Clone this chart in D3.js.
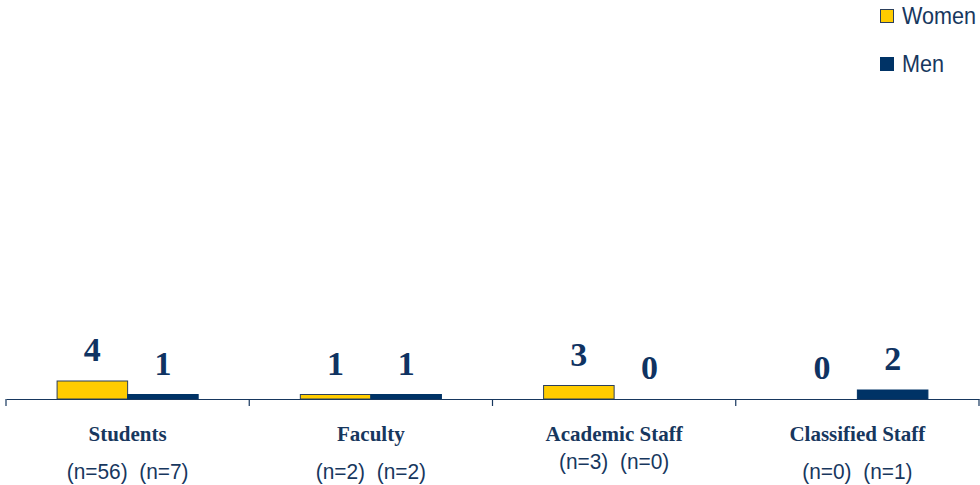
<!DOCTYPE html>
<html>
<head>
<meta charset="utf-8">
<script src="https://cdn.jsdelivr.net/npm/d3@7/dist/d3.min.js"></script>
<style>
  html, body { margin: 0; padding: 0; background: #ffffff; }
  svg { display: block; }
  text.n { white-space: pre; }
</style>
</head>
<body>
<svg id="chart" width="980" height="485"></svg>
<script>
// Groups along the x axis
const categories = ["Students", "Faculty", "Academic Staff", "Classified Staff"];
const series = ["Women", "Men"];
// Values per group
const women = [4, 1, 3, 0];
const men = [1, 1, 0, 2];
// Respondent counts shown beneath each group
const womenN = ["(n=56)", "(n=2)", "(n=3)", "(n=0)"];
const menN = ["(n=7)", "(n=2)", "(n=0)", "(n=1)"];

const colors = { Women: "#FFCC00", Men: "#003366" };
const strokes = { Women: "#2B3F5C", Men: "#003366" };
const navy = "#17375E";

const svg = d3.select("#chart");

const x0 = d3.scaleBand().domain(categories).range([6, 979]).padding(0);
const bw = x0.bandwidth();
const x1 = d3.scaleBand().domain(series).range([bw * 0.21, bw * 0.79]).padding(0);
const y = d3.scaleLinear().domain([0, 80]).range([399, 39]);

const rows = categories.map((c, i) => ({
  category: c,
  values: [
    { key: "Women", value: women[i] },
    { key: "Men", value: men[i] }
  ],
  counts: womenN[i] + "  " + menN[i]
}));

const groups = svg.selectAll("g.group")
  .data(rows)
  .join("g")
  .attr("class", "group")
  .attr("transform", d => `translate(${x0(d.category)},0)`);

// Bars
groups.selectAll("rect")
  .data(d => d.values.filter(v => v.value > 0))
  .join("rect")
  .attr("x", d => x1(d.key))
  .attr("y", d => y(d.value))
  .attr("width", x1.bandwidth())
  .attr("height", d => y(0) - y(d.value))
  .attr("fill", d => colors[d.key])
  .attr("stroke", d => strokes[d.key])
  .attr("stroke-width", 1);

// Value labels above bars
groups.selectAll("text.val")
  .data(d => d.values)
  .join("text")
  .attr("class", "val")
  .attr("x", d => x1(d.key) + x1.bandwidth() / 2)
  .attr("y", d => y(d.value) - 20)
  .attr("text-anchor", "middle")
  .attr("font-family", "'Liberation Serif', 'Times New Roman', serif")
  .attr("font-weight", "bold")
  .attr("font-size", 34)
  .attr("fill", "#0F3362")
  .text(d => d.value);

// Respondent counts line, centred under each group
groups.append("text")
  .attr("class", "n")
  .attr("transform", d => `translate(${bw / 2},${d.category === "Academic Staff" ? 469 : 479}) scale(0.95,1)`)
  .attr("text-anchor", "middle")
  .attr("font-family", "'Liberation Sans', Arial, sans-serif")
  .attr("font-size", 22)
  .attr("fill", navy)
  .text(d => d.counts);

// Category axis
const axis = svg.append("g")
  .attr("transform", "translate(0,399)")
  .call(d3.axisBottom(x0).tickValues([]).tickSizeOuter(0));
axis.select(".domain").attr("stroke", navy).attr("stroke-width", 1.2);

// Tick marks at group boundaries
const bounds = categories.map(c => x0(c)).concat([x0.range()[1]]);
axis.selectAll("line.sep")
  .data(bounds)
  .join("line")
  .attr("class", "sep")
  .attr("x1", d => d).attr("x2", d => d)
  .attr("y1", 0).attr("y2", 7)
  .attr("stroke", navy)
  .attr("stroke-width", 1.2);

// Category labels
svg.selectAll("text.cat")
  .data(categories)
  .join("text")
  .attr("class", "cat")
  .attr("x", d => x0(d) + bw / 2)
  .attr("y", 441)
  .attr("text-anchor", "middle")
  .attr("font-family", "'Liberation Serif', 'Times New Roman', serif")
  .attr("font-weight", "bold")
  .attr("font-size", 21)
  .attr("fill", navy)
  .text(d => d);

// Legend
const legend = svg.selectAll("g.legend")
  .data(series)
  .join("g")
  .attr("class", "legend")
  .attr("transform", (d, i) => `translate(880,${9 + i * 48})`);
legend.append("rect")
  .attr("x", 0.5).attr("y", 0.5)
  .attr("width", 13).attr("height", 13)
  .attr("fill", d => colors[d])
  .attr("stroke", d => strokes[d])
  .attr("stroke-width", 1);
legend.append("text")
  .attr("transform", "translate(22,15) scale(0.9,1)")
  .attr("font-family", "'Liberation Sans', Arial, sans-serif")
  .attr("font-size", 24)
  .attr("fill", navy)
  .text(d => d);
</script>
</body>
</html>
